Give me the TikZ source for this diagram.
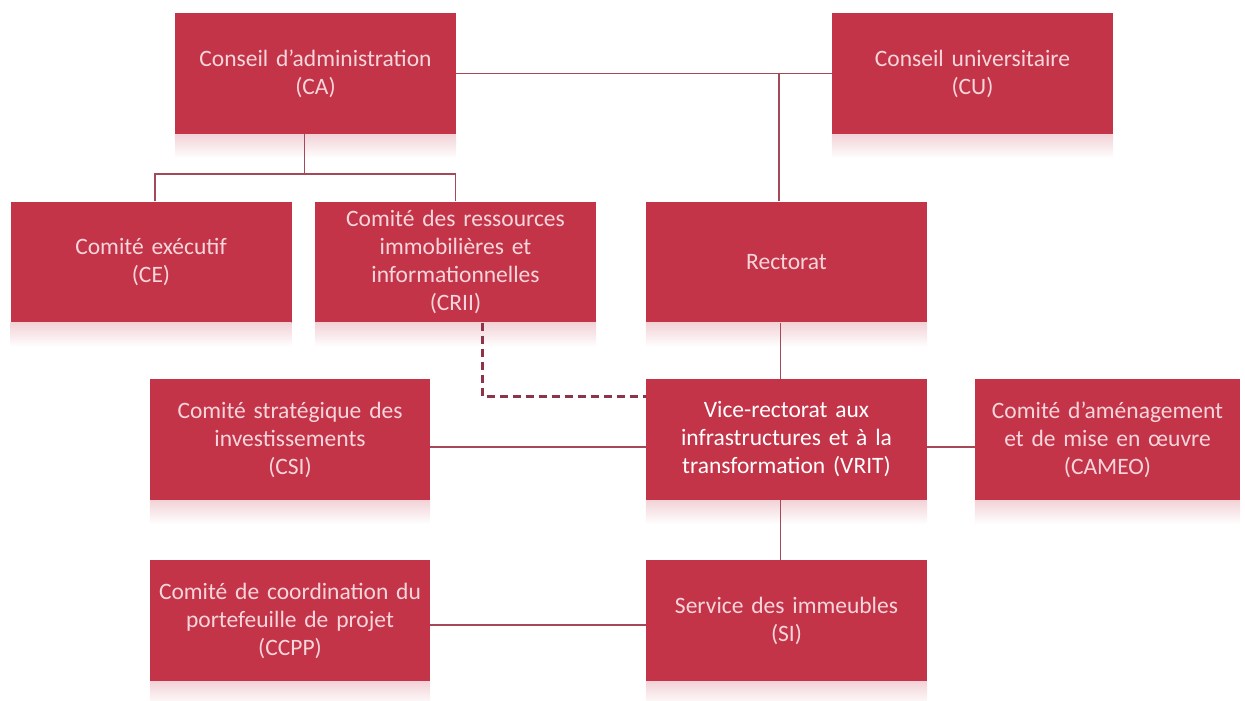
\documentclass[tikz,border=0pt]{standalone}
\usepackage{fontspec}
\setmainfont{Carlito}
\usetikzlibrary{calc}
\definecolor{boxred}{RGB}{196,52,72}
\definecolor{linered}{RGB}{165,72,88}
\definecolor{dashred}{RGB}{140,52,72}
\definecolor{txtpink}{RGB}{246,214,220}
\tikzset{
 unit/.style={fill=boxred, text=txtpink, minimum width=281pt, minimum height=121pt, text width=272pt, align=center, inner sep=0pt, font=\fontsize{23.5}{28}\selectfont},
 link/.style={draw=linered, line width=1.3pt},
 dashlink/.style={draw=dashred, line width=2.6pt, dash pattern=on 8pt off 5pt}
}
\begin{document}
\begin{tikzpicture}[x=1pt,y=-1pt]
\useasboundingbox (0,0) rectangle (1245,701);
\node[unit] (ca) at (315.5,73.5) {Conseil d’administration\\(CA)};
\node[unit] (cu) at (972.5,73.5) {Conseil universitaire\\(CU)};
\node[unit] (ce) at (151,262) {Comité exécutif\\(CE)};
\node[unit] (crii) at (455.5,262) {Comité des ressources\\immobilières et\\informationnelles\\(CRII)};
\node[unit] (rectorat) at (786.5,262) {Rectorat};
\node[unit, minimum width=280pt] (csi) at (290,439.5) {Comité stratégique des\\investissements\\(CSI)};
\node[unit, text=white] (vrit) at (786.5,439.5) {Vice-rectorat aux\\infrastructures et à la\\transformation (VRIT)};
\node[unit, minimum width=265pt, text width=260pt] (cameo) at (1107.5,439.5) {Comité d’aménagement\\et de mise en œuvre\\(CAMEO)};
\node[unit, minimum width=280pt] (ccpp) at (290,620.5) {Comité de coordination du\\portefeuille de projet\\(CCPP)};
\node[unit] (si) at (786.5,620.5) {Service des immeubles\\(SI)};
\foreach \n in {ca,cu,ce,crii,rectorat,csi,vrit,cameo,ccpp,si} {
 \shade[top color=boxred!22, bottom color=white] (\n.south west) rectangle ([yshift=-24pt]\n.south east);
}
\coordinate (fork) at ([xshift=-11pt]ca.south |- 0,174);
\coordinate (top) at (779,73.5);
\draw[link] (ca.east) -- (cu.west);
\draw[link] (top) -- (top |- rectorat.north);
\draw[link] ([xshift=-11pt]ca.south) -- (fork);
\draw[link] ([xshift=4pt]ce.north) |- (fork) -| (crii.north);
\draw[link] ([xshift=-6pt]rectorat.south) -- ([xshift=-6pt]vrit.north);
\draw[link] ([xshift=-6pt]vrit.south) -- ([xshift=-6pt]si.north);
\draw[link] (csi.east |- 0,447) -- (vrit.west |- 0,447);
\draw[link] (vrit.east |- 0,447) -- (cameo.west |- 0,447);
\draw[link] (ccpp.east |- 0,625) -- (si.west |- 0,625);
\draw[dashlink] ([xshift=27pt]crii.south) |- ([yshift=43pt]vrit.west);
\end{tikzpicture}
\end{document}
